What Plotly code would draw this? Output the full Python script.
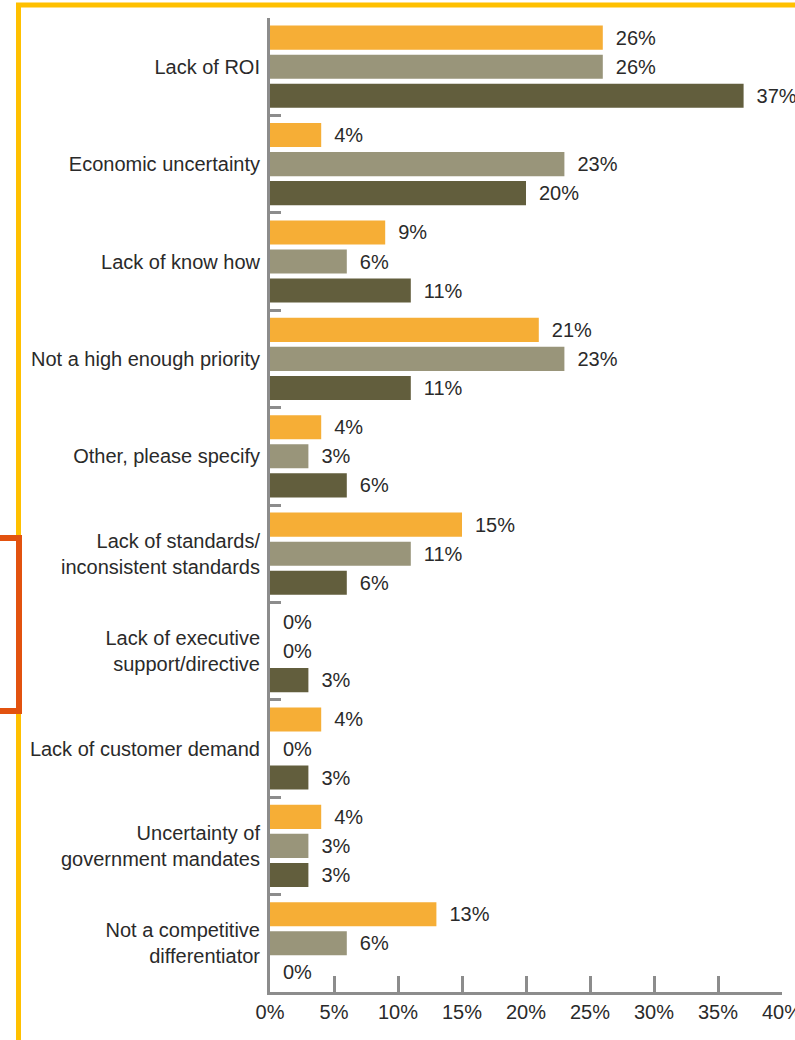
import plotly.graph_objects as go

categories = [
    "Lack of ROI",
    "Economic uncertainty",
    "Lack of know how",
    "Not a high enough priority",
    "Other, please specify",
    "Lack of standards/<br>inconsistent standards",
    "Lack of executive<br>support/directive",
    "Lack of customer demand",
    "Uncertainty of<br>government mandates",
    "Not a competitive<br>differentiator",
]
series_a = [26, 4, 9, 21, 4, 15, 0, 4, 4, 13]
series_b = [26, 23, 6, 23, 3, 11, 0, 0, 3, 6]
series_c = [37, 20, 11, 11, 6, 6, 3, 3, 3, 0]
x_ticks = [0, 5, 10, 15, 20, 25, 30, 35, 40]
x_tick_labels = [f"{v}%" for v in x_ticks]

colors = ["#F6AE36", "#99957A", "#625E3D"]

W, H = 795, 1040
ML, MR, MT, MB = 270, 13, 18, 48
PW, PH = W - ML - MR, H - MT - MB


def px(xp):
    return (xp - ML) / PW


def py(yp):
    return (H - MB - yp) / PH


fig = go.Figure()
for vals, col in zip([series_a, series_b, series_c], colors):
    fig.add_trace(go.Bar(
        y=categories, x=vals, orientation="h",
        marker=dict(color=col, line=dict(width=0)),
        text=["\u2002" + f"{v}%" for v in vals], textposition="outside",
        textfont=dict(size=20, color="#2a2a2a", family="Liberation Sans, Arial, sans-serif"),
        constraintext="none", cliponaxis=False, showlegend=False,
        hoverinfo="skip",
    ))

axis_grey = "#8c8c8c"
fig.update_layout(
    width=W, height=H, autosize=False,
    margin=dict(l=ML, r=MR, t=MT, b=MB, pad=0, autoexpand=False),
    paper_bgcolor="white", plot_bgcolor="white",
    barmode="group", bargap=0.105, bargroupgap=0.17,
    font=dict(family="Liberation Sans, Arial, sans-serif", size=20, color="#2a2a2a"),
    xaxis=dict(
        range=[0, 40], tickvals=x_ticks, ticktext=x_tick_labels,
        ticks="inside", ticklen=16, tickwidth=3, tickcolor=axis_grey,
        showline=True, linewidth=3, linecolor=axis_grey,
        showgrid=False, zeroline=False, ticklabeloverflow="allow",
        automargin=False,
        tickfont=dict(size=20, color="#2a2a2a"),
    ),
    yaxis=dict(
        type="category", range=[9.5, -0.5],
        ticks="inside", tickson="boundaries", ticklen=11, tickwidth=3, tickcolor=axis_grey,
        showline=True, linewidth=3, linecolor=axis_grey,
        showgrid=False, zeroline=False, automargin=False,
        ticklabelstandoff=3,
        tickfont=dict(size=20, color="#2a2a2a"),
    ),
    shapes=[
        dict(type="rect", xref="paper", yref="paper",
             x0=px(18.5), x1=px(W + 20), y0=py(H + 20), y1=py(5),
             line=dict(color="#FFC000", width=5), fillcolor="rgba(0,0,0,0)", layer="above"),
        dict(type="path", xref="paper", yref="paper",
             path=f"M {px(-5)},{py(538)} L {px(19)},{py(538)} L {px(19)},{py(711)} L {px(-5)},{py(711)}",
             line=dict(color="#E2520F", width=6), layer="above"),
    ],
)

fig.write_html("out.html")
